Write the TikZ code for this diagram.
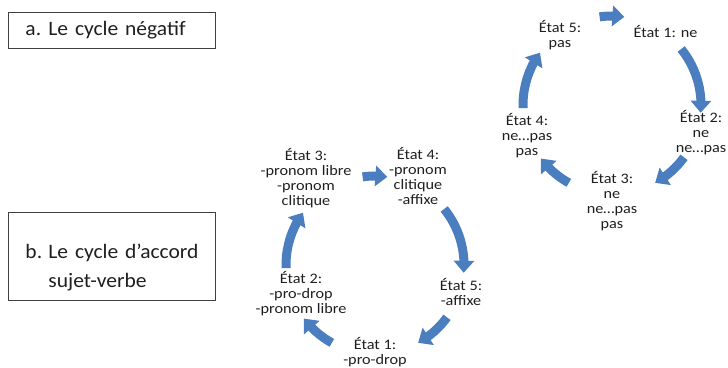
\documentclass[tikz,border=0pt]{standalone}
\usepackage{fontspec}
\setmainfont{Carlito}
\newfontfamily\cycfont[FakeStretch=1.12]{Carlito}
\newfontfamily\boxfont[FakeStretch=1.05]{Carlito}
\usetikzlibrary{arrows.meta,bending}
\definecolor{arrowblue}{HTML}{4A7EBF}
\definecolor{txt}{HTML}{1F1F1F}
\definecolor{boxline}{HTML}{404040}
\begin{document}
\begin{tikzpicture}[x=1pt,y=1pt,
  state/.style={font=\cycfont\fontsize{14.5}{15}\selectfont, text=txt, align=center, inner sep=0pt, anchor=base},
  cyclearrow/.style={draw=arrowblue, line width=9pt, -{Triangle[width=20pt,length=12pt]}},
  labelbox/.style={draw=boxline, line width=0.9pt, font=\boxfont\fontsize{20.5}{29}\selectfont, text=txt, align=left, anchor=north west, inner xsep=0pt, inner ysep=0pt, text width=207pt}]
\useasboundingbox (0,0) rectangle (728,-367);

% label boxes
\node[labelbox, minimum height=36pt] (boxa) at (8,-12) {\hspace*{17pt}\makebox[23pt][l]{a.}Le cycle négatif};
\node[labelbox, minimum height=88pt, text depth=10pt] (boxb) at (8,-212) {\hspace*{17pt}\makebox[23pt][l]{b.}Le cycle d’accord\\\hspace*{40pt}sujet-verbe};

% cycle a (anchor = baseline of the last line)
\coordinate (ca) at (612,-105);
\node[state] (a5) at (560,-47) {État 5:\\pas};
\node[state] (a1) at (665.5,-37) {État 1: ne};
\node[state] (a2) at (701,-152) {État 2:\\ne\\ne…pas};
\node[state] (a3) at (612,-228) {État 3:\\ne\\ne…pas\\pas};
\node[state] (a4) at (527,-155) {État 4:\\ne…pas\\pas};

\draw[cyclearrow] ([shift={(98:89pt)}]ca) arc[start angle=98, end angle=82, radius=89pt];
\draw[cyclearrow] ([shift={(39:89pt)}]ca) arc[start angle=39, end angle=-5, radius=89pt];
\draw[cyclearrow] ([shift={(-36:89pt)}]ca) arc[start angle=-36, end angle=-61, radius=89pt];
\draw[cyclearrow] ([shift={(-119:89pt)}]ca) arc[start angle=-119, end angle=-143, radius=89pt];
\draw[cyclearrow] ([shift={(182:89pt)}]ca) arc[start angle=182, end angle=144, radius=89pt];

% cycle b
\coordinate (cb) at (375,-265);
\node[state] (b3) at (306,-205) {État 3:\\-pronom libre\\-pronom\\clitique};
\node[state] (b4) at (418,-204) {État 4:\\-pronom\\clitique\\-affixe};
\node[state] (b5) at (461,-305) {État 5:\\-affixe};
\node[state] (b1) at (375,-364) {État 1:\\-pro-drop};
\node[state] (b2) at (301,-313) {État 2:\\-pro-drop\\-pronom libre};

\draw[cyclearrow] ([shift={(98:89pt)}]cb) arc[start angle=98, end angle=82, radius=89pt];
\draw[cyclearrow] ([shift={(39:89pt)}]cb) arc[start angle=39, end angle=-5, radius=89pt];
\draw[cyclearrow] ([shift={(-36:89pt)}]cb) arc[start angle=-36, end angle=-61, radius=89pt];
\draw[cyclearrow] ([shift={(-119:89pt)}]cb) arc[start angle=-119, end angle=-143, radius=89pt];
\draw[cyclearrow] ([shift={(182:89pt)}]cb) arc[start angle=182, end angle=144, radius=89pt];
\end{tikzpicture}
\end{document}
